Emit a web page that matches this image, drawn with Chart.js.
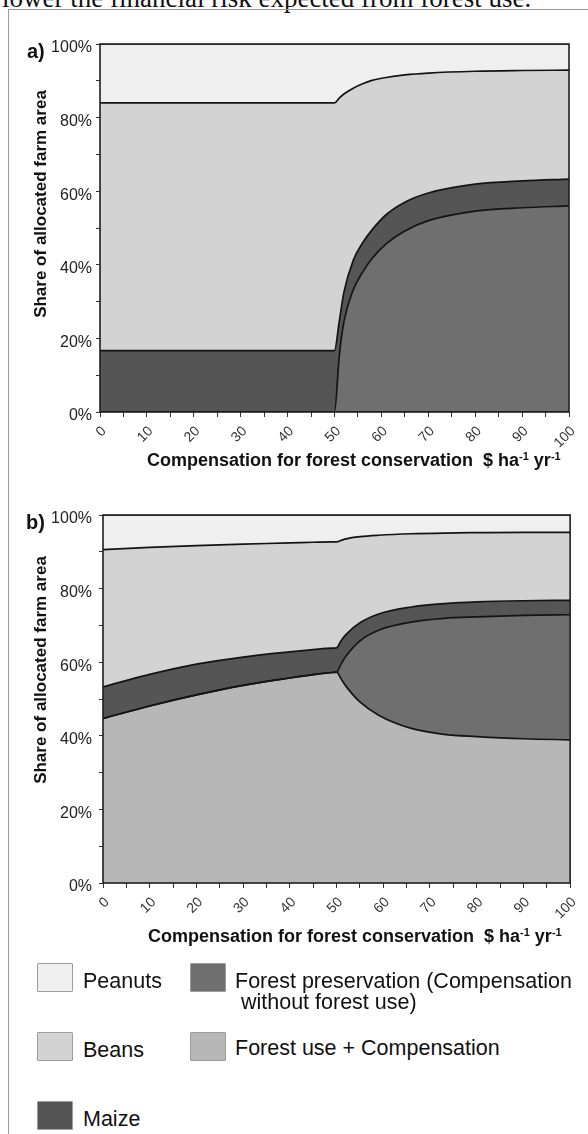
<!DOCTYPE html>
<html>
<head>
<meta charset="utf-8">
<script src="https://cdn.jsdelivr.net/npm/chart.js@4.4.1/dist/chart.umd.min.js"></script>
<style>
  html, body { margin: 0; padding: 0; background: #fff; }
  body { width: 588px; height: 1134px; position: relative; overflow: hidden;
         font-family: "Liberation Sans", Arial, sans-serif; color: #111; }
  .abs { position: absolute; }
  #lead { left: 2px; top: -17px; font: 27px/30px "Liberation Serif", "Times New Roman", serif;
          white-space: nowrap; color: #111; }
  #frame { left: 8px; top: 9px; width: 600px; height: 1200px;
           border-top: 1.5px solid #9a9a9a; border-left: 1.5px solid #9a9a9a; }
  .panel { font-weight: bold; font-size: 20px; line-height: 20px; }
  .ytitle { font-weight: bold; font-size: 17px; line-height: 17px; white-space: nowrap;
            transform: translate(-50%, -50%) rotate(-90deg); }
  .xtitle { font-weight: bold; font-size: 18px; line-height: 20px; white-space: nowrap; }
  .xtitle sup { font-size: 11px; vertical-align: 6px; line-height: 0; }
  .box { width: 34px; height: 27px; border: 1.5px solid #9c9c9c; border-radius: 1px; }
  .lab { font-size: 21.5px; line-height: 21px; white-space: nowrap; }
  canvas { position: absolute; left: 0; }
</style>
</head>
<body>
<div id="lead" class="abs">lower the financial risk expected from forest use.</div>
<div id="frame" class="abs"></div>

<canvas id="chartA" width="588" height="480" style="top:0px"></canvas>
<canvas id="chartB" width="588" height="480" style="top:471px"></canvas>

<div class="abs panel" style="left:27px; top:41px">a)</div>
<div class="abs panel" style="left:26px; top:512px">b)</div>

<div class="abs ytitle" style="left:40px; top:204px">Share of allocated farm area</div>
<div class="abs ytitle" style="left:40px; top:670px">Share of allocated farm area</div>

<div class="abs xtitle" style="left:147px; top:450px">Compensation for forest conservation&nbsp; $ ha<sup>-1</sup> yr<sup>-1</sup></div>
<div class="abs xtitle" style="left:148px; top:926px">Compensation for forest conservation&nbsp; $ ha<sup>-1</sup> yr<sup>-1</sup></div>

<!-- legend -->
<div class="abs box" style="left:37px; top:963px; background:#efefef"></div>
<div class="abs lab" style="left:83px; top:971px">Peanuts</div>
<div class="abs box" style="left:190px; top:963px; background:#6f6f6f"></div>
<div class="abs lab" style="left:235px; top:971px">Forest preservation (Compensation<br>&nbsp;without forest use)</div>
<div class="abs box" style="left:37px; top:1032px; background:#d3d3d3"></div>
<div class="abs lab" style="left:83px; top:1040px">Beans</div>
<div class="abs box" style="left:190px; top:1032px; background:#b7b7b7"></div>
<div class="abs lab" style="left:235px; top:1038px">Forest use + Compensation</div>
<div class="abs box" style="left:37px; top:1101px; background:#555555"></div>
<div class="abs lab" style="left:83px; top:1109px">Maize</div>

<script>
// Land-use shares (% of allocated farm area) against compensation ($ ha-1 yr-1)

// a) without forest-use option
const compensationA = [0, 10, 20, 30, 40, 50, 51, 52, 54, 56, 58, 61, 65, 70, 80, 90, 100];
const forestUseA = [0, 0, 0, 0, 0, 0, 0, 0, 0, 0, 0, 0, 0, 0, 0, 0, 0];
const forestPreservationA = [0, 0, 0, 0, 0, 0, 15, 24.5, 33.2, 38, 41.7, 45.7, 49.2, 52, 54.6, 55.5, 56];
const maizeA = [16.7, 16.7, 16.7, 16.7, 16.7, 16.7, 9.5, 8, 8, 8, 7.8, 7.9, 7.8, 7.5, 7.3, 7.3, 7.3];
const beansA = [67.3, 67.3, 67.3, 67.3, 67.3, 67.3, 60.8, 53.9, 46.8, 43.2, 40.6, 37.3, 34.6, 32.6, 30.7, 30, 29.6];
const peanutsA = [16, 16, 16, 16, 16, 16, 14.7, 13.6, 12, 10.8, 9.9, 9.1, 8.4, 7.9, 7.4, 7.2, 7.1];

// b) with forest use + compensation
const compensationB = [0, 10, 20, 30, 40, 45, 49, 50, 51, 52, 55, 59, 66, 73, 80, 90, 100];
const forestUseB = [44.7, 48.1, 51.1, 53.7, 55.7, 56.6, 57.2, 57.3, 55.4, 53.5, 49.2, 45.6, 42.0, 40.4, 39.8, 39.2, 38.9];
const forestPreservationB = [0, 0, 0, 0, 0, 0, 0, 0, 4.2, 8.1, 16.6, 23.1, 28.9, 31.5, 32.5, 33.5, 34.0];
const maizeB = [8.6, 8.6, 8.4, 7.7, 7.1, 6.8, 6.6, 6.6, 6.3, 5.9, 4.9, 4.4, 4.1, 4.0, 4.1, 4.0, 3.9];
const beansB = [37.3, 34.5, 32.2, 30.7, 29.6, 29.2, 28.9, 28.8, 27.2, 26.0, 23.4, 21.4, 19.9, 19.2, 18.8, 18.6, 18.5];
const peanutsB = [9.4, 8.8, 8.3, 7.9, 7.6, 7.4, 7.3, 7.3, 6.9, 6.5, 5.9, 5.5, 5.1, 4.9, 4.8, 4.7, 4.7];

const xTickValues = [0, 10, 20, 30, 40, 50, 60, 70, 80, 90, 100];
const yTickValues = [0, 20, 40, 60, 80, 100];

const landUses = [
  { name: 'Forest use + Compensation', color: '#b7b7b7' },
  { name: 'Forest preservation', color: '#6f6f6f' },
  { name: 'Maize', color: '#555555' },
  { name: 'Beans', color: '#d3d3d3' },
  { name: 'Peanuts', color: '#efefef' }
];

const plotFrame = {
  id: 'plotFrame',
  afterDatasetsDraw(chart) {
    const { ctx, chartArea: a } = chart;
    ctx.save();
    ctx.strokeStyle = '#1e1e1e';
    ctx.lineWidth = 1.6;
    ctx.strokeRect(a.left, a.top, a.right - a.left, a.bottom - a.top);
    ctx.restore();
  }
};

function makeChart(id, xs, series, yAxisWidth, rightPad, yLabelPad) {
  const datasets = series.map((vals, i) => ({
    label: landUses[i].name,
    data: xs.map((x, j) => ({ x: x, y: vals[j] })),
    backgroundColor: landUses[i].color,
    borderColor: '#141414',
    borderWidth: 1.7,
    pointRadius: 0,
    cubicInterpolationMode: 'monotone',
    fill: i === 0 ? 'origin' : '-1'
  }));
  return new Chart(document.getElementById(id), {
    type: 'line',
    data: { datasets },
    plugins: [plotFrame],
    options: {
      responsive: false,
      animation: false,
      events: [],
      layout: { padding: { left: 0, right: rightPad, top: 44, bottom: 0 } },
      plugins: {
        legend: { display: false },
        tooltip: { enabled: false },
        filler: { drawTime: 'beforeDatasetsDraw' }
      },
      scales: {
        x: {
          type: 'linear', min: 0, max: 100,
          border: { display: false },
          grid: { drawOnChartArea: false, drawTicks: true, tickLength: 5, color: '#333', lineWidth: 1 },
          afterFit(s) { s.height = 68; },
          ticks: {
            stepSize: 5, autoSkip: false, minRotation: 45, maxRotation: 45,
            padding: 6, labelOffset: 4,
            color: '#333', font: { family: 'Liberation Sans', size: 14 },
            callback: v => xTickValues.includes(v) ? String(v) : ''
          }
        },
        y: {
          stacked: true, min: 0, max: 100,
          border: { display: false },
          grid: { drawOnChartArea: false, drawTicks: true, tickLength: 4, color: '#333', lineWidth: 1 },
          afterFit(s) { s.width = yAxisWidth; },
          ticks: {
            stepSize: 10, padding: yLabelPad, labelOffset: 4,
            color: '#222', font: { family: 'Liberation Sans', size: 16 },
            callback: v => yTickValues.includes(v) ? v + '%' : ''
          }
        }
      }
    }
  });
}

makeChart('chartA', compensationA,
  [forestUseA, forestPreservationA, maizeA, beansA, peanutsA], 100, 19, 4);
makeChart('chartB', compensationB,
  [forestUseB, forestPreservationB, maizeB, beansB, peanutsB], 103, 16, 7);
</script>
</body>
</html>
